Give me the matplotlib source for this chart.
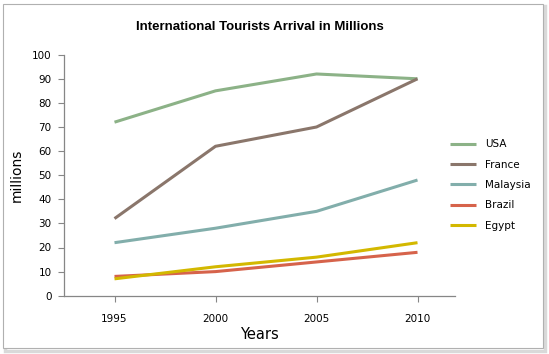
import matplotlib.pyplot as plt
from matplotlib.patches import Rectangle

years = ['1995', '2000', '2005', '2010']
usa = [72, 85, 92, 90]
france = [32, 62, 70, 90]
malaysia = [22, 28, 35, 48]
brazil = [8, 10, 14, 18]
egypt = [7, 12, 16, 22]

series = [
    ('USA', usa, '#8cb287'),
    ('France', france, '#8a766b'),
    ('Malaysia', malaysia, '#82aeab'),
    ('Brazil', brazil, '#d6634b'),
    ('Egypt', egypt, '#d3b800'),
]

W, H = 549, 354
fig = plt.figure(figsize=(W / 100, H / 100), dpi=100)

# chart area border with a soft shadow (kept behind the axes)
fig.patches.append(Rectangle((5 / W, 1 - 351 / H), 540 / W, 345 / H, transform=fig.transFigure,
                             facecolor='none', edgecolor='#d9d9d9', lw=2.5, zorder=-10))
fig.patches.append(Rectangle((3 / W, 1 - 348 / H), 540 / W, 344 / H, transform=fig.transFigure,
                             facecolor='white', edgecolor='#b0b0b0', lw=0.8, zorder=-9))

ax = fig.add_axes([64 / W, 1 - 295.7 / H, (455 - 64) / W, (295.7 - 54.7) / H])
ax.set_facecolor('none')

x = list(range(len(years)))
for name, vals, col in series:
    ax.plot(x, vals, color=col, lw=2.2, label=name, solid_capstyle='butt')

ax.set_xlim(-0.5, (455 - 64) / 101 - 0.5)
ax.set_ylim(0, 100)
ax.set_yticks(range(0, 101, 10))
ax.set_xticks(x)
ax.set_xticklabels(years)

for s in ['top', 'right']:
    ax.spines[s].set_visible(False)
for s in ['left', 'bottom']:
    ax.spines[s].set_color('#868686')
    ax.spines[s].set_linewidth(0.9)

ax.tick_params(axis='y', length=4, width=0.8, color='#868686', labelsize=7.5, pad=5)
ax.tick_params(axis='x', length=4, width=0.8, color='#868686', labelsize=7.5, pad=9)

ax.set_ylabel('millions', fontsize=10, labelpad=6)
ax.set_xlabel('Years', fontsize=10.5, labelpad=2)

fig.text(260 / W, 1 - 27 / H, 'International Tourists Arrival in Millions', ha='center', va='center',
         fontsize=9.5, fontweight='bold', family='Liberation Sans')

ax.legend(loc='center left', bbox_to_anchor=(450 / W, 1 - 185 / H), bbox_transform=fig.transFigure,
          frameon=False, fontsize=7.5, handlelength=2.5, handletextpad=0.9, labelspacing=1.0,
          borderpad=0, borderaxespad=0)

fig.savefig('out.png', dpi=100)
